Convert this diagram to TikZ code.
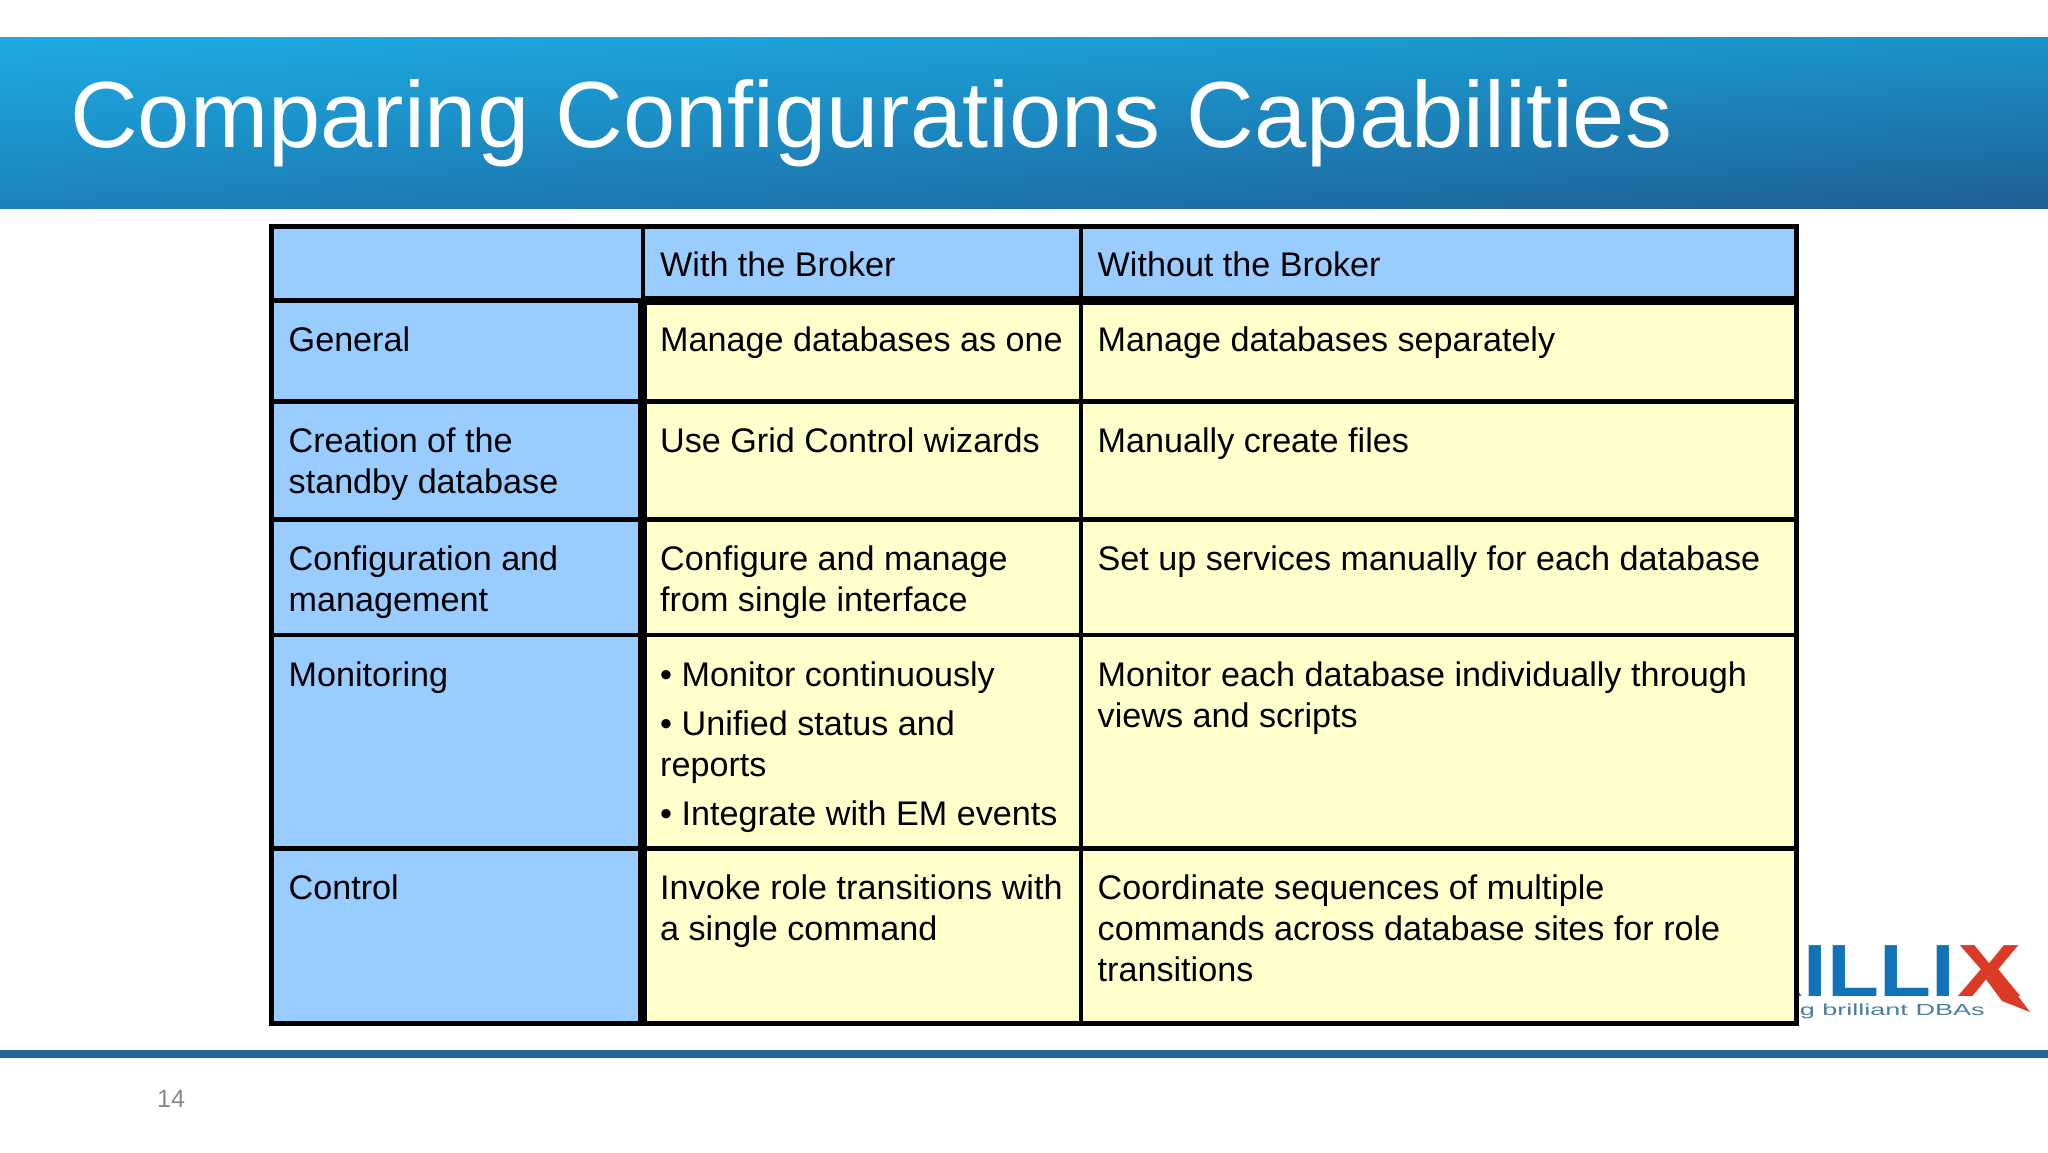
\documentclass[tikz,border=0pt]{standalone}
\usepackage{fontspec}
\setmainfont{Liberation Sans}
\usepackage{array}
\definecolor{bannerTL}{HTML}{1DABE2}
\definecolor{bannerML}{HTML}{1DA0D8}
\definecolor{bannerBL}{HTML}{1C82BB}
\definecolor{bannerTR}{HTML}{1A93C8}
\definecolor{bannerMR}{HTML}{1B77AE}
\definecolor{bannerBR}{HTML}{1E5F97}
\definecolor{barblue}{HTML}{20639B}
\definecolor{headblue}{HTML}{99CCFF}
\definecolor{cellyellow}{HTML}{FFFFCC}
\definecolor{logoblue}{HTML}{1174B8}
\definecolor{logored}{HTML}{DB3A26}
\definecolor{tagblue}{HTML}{4A7F9F}
\definecolor{pagegrey}{HTML}{898989}
\tikzset{
  x=1pt,y=-1pt,
  celltext/.style={anchor=base west,inner sep=0pt,font=\fontsize{34.15}{41}\selectfont,text=black},
  rule/.style={line width=#1,draw=black,line cap=rect},
  rule/.default=4.6pt,
}
\newcommand{\ML}[1]{\begin{tabular}[t]{@{}l@{}}#1\end{tabular}}
\begin{document}
\begin{tikzpicture}
\useasboundingbox (0,0) rectangle (2048,1152);
\fill[white] (0,0) rectangle (2048,1152);
% banner: vertical gradient that darkens towards the right
\foreach \i in {0,...,63}{
  \pgfmathsetmacro{\p}{100-100*\i/63}
  \pgfmathsetmacro{\xa}{32*\i}
  \pgfmathsetmacro{\xb}{32*\i+33}
  \shade[top color=bannerTL!\p!bannerTR,middle color=bannerML!\p!bannerMR,bottom color=bannerBL!\p!bannerBR] (\xa,37) rectangle (\xb,208);
}
\node[anchor=base west,inner sep=0pt,text=white,font=\fontsize{93.9}{100}\selectfont] (title) at (70,147) {Comparing Configurations Capabilities};
% footer bar
\fill[barblue] (0,1050) rectangle (2048,1058);
\node[anchor=base west,inner sep=0pt,text=pagegrey,font=\fontsize{25}{30}\selectfont] (pagenum) at (157,1107) {14};
% logo
\node[anchor=base east,inner sep=0pt,text=logoblue,font=\fontsize{74}{74}\selectfont\bfseries,xscale=1.15] (logotext) at (1955,996) {RILLI};
\node[anchor=base west,inner sep=0pt,text=logored,font=\fontsize{74}{74}\selectfont\bfseries,xscale=1.3] (logox) at (1957,996) {X};
\fill[logored] (1985,978) -- (2000,972) -- (2030,1012) -- (2002,1001) -- cycle;
\node[anchor=base east,inner sep=0pt,text=tagblue,font=\fontsize{16}{20}\selectfont,xscale=1.69] (logotag) at (1985,1015) {g brilliant DBAs};
% table fills
\fill[headblue] (272,226) rectangle (643,1023);
\fill[headblue] (643,226) rectangle (1797,300);
\fill[cellyellow] (643,300) rectangle (1797,1023);
% table rules
\draw[rule] (271.5,226.5) rectangle (1796.5,1023.5);
\draw[rule] (271.5,300.5) -- (643,300.5);
\draw[rule=9pt,line cap=butt] (643,300.5) -- (1797,300.5);
\draw[rule] (643,226.5) -- (643,300);
\draw[rule=9.6pt,line cap=butt] (642.3,298) -- (642.3,1023);
\draw[rule] (1081,226.5) -- (1081,1023.5);
\foreach \yy in {401.5,519.5,635,848.5}{\draw[rule] (271.5,\yy) -- (1796.5,\yy);}
% header
\node[celltext] (hwith) at (660,276.5) {With the Broker};
\node[celltext] (hwithout) at (1097.5,276.5) {Without the Broker};
% first column
\node[celltext] (rgeneral) at (288.5,351) {General};
\node[celltext] (rcreate) at (288.5,452) {\ML{Creation of the\\standby database}};
\node[celltext] (rconfig) at (288.5,570) {\ML{Configuration and\\management}};
\node[celltext] (rmonitor) at (288.5,686) {Monitoring};
\node[celltext] (rcontrol) at (288.5,899) {Control};
% with
\node[celltext] (wgeneral) at (660,351) {Manage databases as one};
\node[celltext] (wcreate) at (660,452) {Use Grid Control wizards};
\node[celltext] (wconfig) at (660,570) {\ML{Configure and manage\\from single interface}};
\node[celltext] (wmonitor) at (660,686) {\ML{• Monitor continuously\\[8pt]• Unified status and\\reports\\[8pt]• Integrate with EM events}};
\node[celltext] (wcontrol) at (660,899) {\ML{Invoke role transitions with\\a single command}};
% without
\node[celltext] (ogeneral) at (1097.5,351) {Manage databases separately};
\node[celltext] (ocreate) at (1097.5,452) {Manually create files};
\node[celltext] (oconfig) at (1097.5,570) {Set up services manually for each database};
\node[celltext] (omonitor) at (1097.5,686) {\ML{Monitor each database individually through\\views and scripts}};
\node[celltext] (ocontrol) at (1097.5,899) {\ML{Coordinate sequences of multiple\\commands across database sites for role\\transitions}};
\end{tikzpicture}
\end{document}
